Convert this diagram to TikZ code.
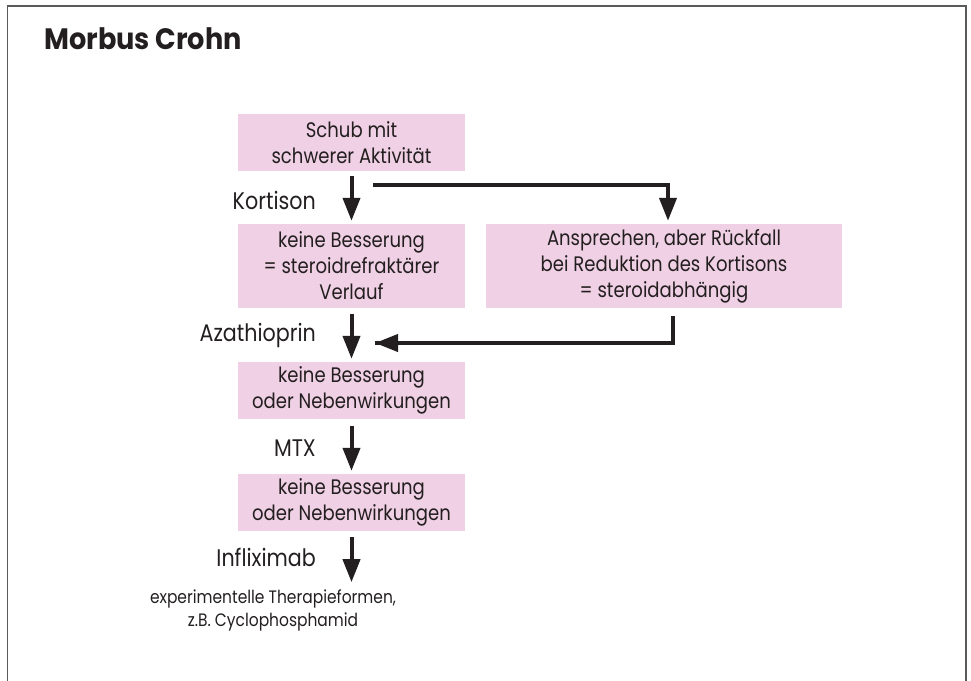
\documentclass[tikz,border=0pt]{standalone}
\usepackage{fontspec}
\setmainfont{Poppins}[FakeStretch=0.86]
\newfontfamily\titlefont{Poppins}[FakeStretch=0.92]
\usetikzlibrary{arrows.meta}
\definecolor{boxpink}{RGB}{240,208,228}
\definecolor{ink}{RGB}{35,31,32}
\definecolor{framegray}{RGB}{90,90,90}
\tikzset{
  pbox/.style={fill=boxpink, draw=none, inner sep=0pt, align=center, text=ink,
    font=\fontsize{21}{26}\selectfont},
  arr/.style={draw=ink, line width=4pt, -{Triangle[width=17pt,length=23pt]}},
  link/.style={draw=ink, line width=4pt},
  lbl/.style={anchor=east, text=ink, inner sep=0pt, font=\fontsize{24}{26}\selectfont},
}
\begin{document}
\begin{tikzpicture}[x=1pt,y=-1pt]
\useasboundingbox (0,0) rectangle (971,680);
\draw[framegray, line width=1.6pt] (7.5,690) -- (7.5,6) -- (966,6) -- (966,690);
\node[anchor=base west, inner sep=0pt, text=ink, font=\titlefont\bfseries\fontsize{29.5}{32}\selectfont] (title) at (44,49) {Morbus Crohn};

\node[pbox, minimum width=227pt, minimum height=57pt] (A) at (351.5,142.5) {Schub mit\\schwerer Aktivität};
\node[pbox, minimum width=227pt, minimum height=84pt] (B) at (351.5,266) {keine Besserung\\= steroidrefraktärer\\Verlauf};
\node[pbox, minimum width=356pt, minimum height=84pt] (C) at (664,266) {Ansprechen, aber Rückfall\\bei Reduktion des Kortisons\\= steroidabhängig};
\node[pbox, minimum width=227pt, minimum height=57pt] (D) at (351.5,390.5) {keine Besserung\\oder Nebenwirkungen};
\node[pbox, minimum width=227pt, minimum height=57pt] (E) at (351.5,502.5) {keine Besserung\\oder Nebenwirkungen};
\node[align=center, text=ink, inner sep=0pt, font=\fontsize{18}{23}\selectfont] (F) at (273,610) {experimentelle Therapieformen,\\z.B. Cyclophosphamid};

\node[lbl] (l1) at (316,200) {Kortison};
\node[lbl] (l2) at (316,335) {Azathioprin};
\node[lbl] (l3) at (316,448) {MTX};
\node[lbl] (l4) at (316,557) {Infliximab};

\coordinate (k1) at (373,185);
\coordinate (ret) at (375,343);

\draw[arr] ([yshift=-5pt]A.south) -- ([yshift=3pt]B.north);
\draw[arr] (k1) -| ([xshift=4pt,yshift=3pt]C.north);
\draw[arr] ([yshift=-6pt]B.south) -- ([yshift=3pt]D.north);
\draw[link] ([xshift=9pt,yshift=-8pt]C.south) |- (ret);
\draw[arr] ([xshift=9pt]ret) -- (ret);
\draw[arr] ([yshift=-7pt]D.south) -- ([yshift=3pt]E.north);
\draw[arr] ([yshift=-6pt]E.south) -- ([yshift=-51pt]E.south);
\end{tikzpicture}
\end{document}
